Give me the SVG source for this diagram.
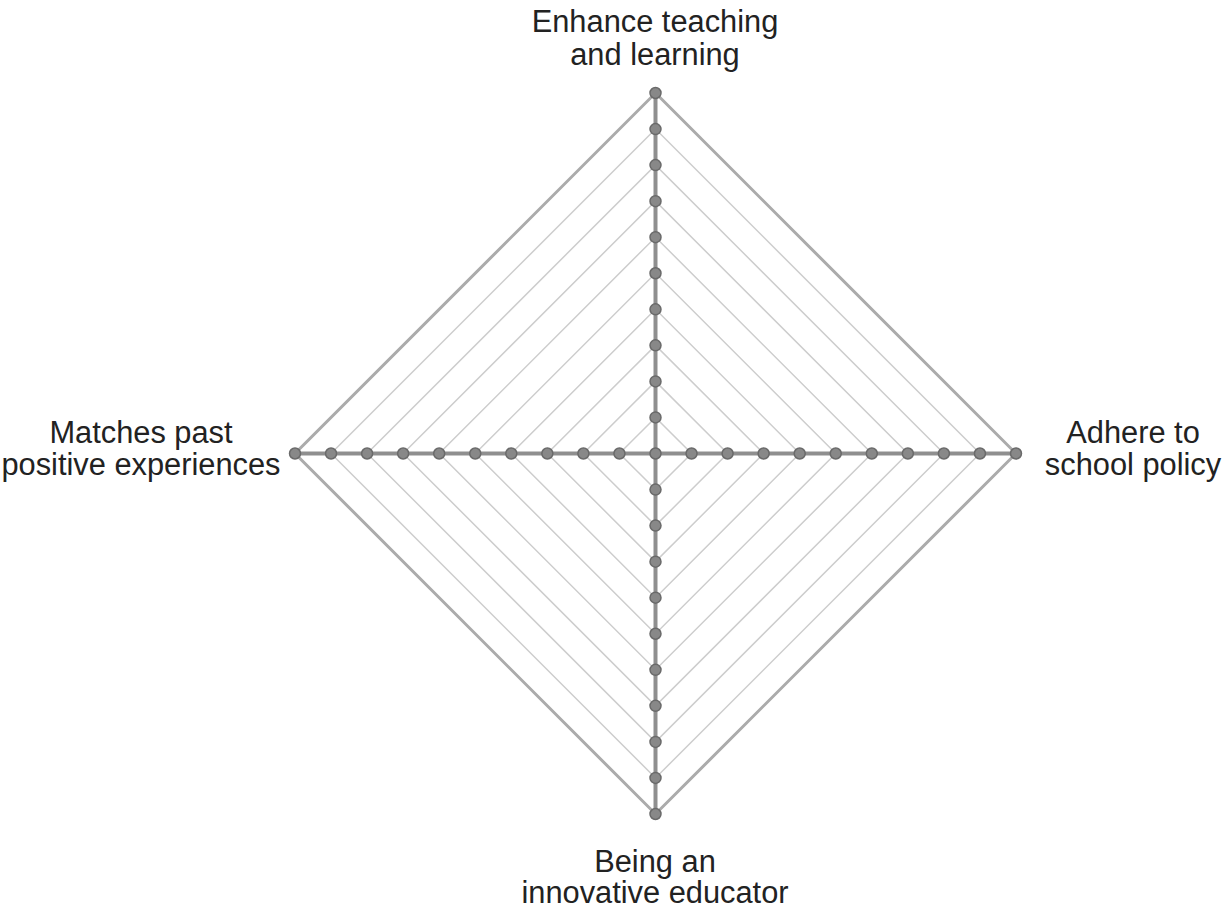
<svg xmlns="http://www.w3.org/2000/svg" xmlns:xlink="http://www.w3.org/1999/xlink" width="1229" height="911" viewBox="0 0 1229 911">
<style>
.ring{fill:none;stroke:#cdcdcd;stroke-width:1.5;stroke-linejoin:miter}
.outer{fill:none;stroke:#ababab;stroke-width:3;stroke-linejoin:miter}
.axis{stroke:#8f8f8f;stroke-width:4}
.dot{fill:#888888;stroke:#6a6a6a;stroke-width:1.5}
.lbl{font-family:"Liberation Sans",Arial,sans-serif;font-size:30.8px;fill:#222222;text-anchor:middle}
</style>
<rect width="1229" height="911" fill="#ffffff"/>
<g id="grid">
<polygon class="ring" points="655.5,417.45 691.55,453.5 655.5,489.55 619.45,453.5"/>
<polygon class="ring" points="655.5,381.4 727.6,453.5 655.5,525.6 583.4,453.5"/>
<polygon class="ring" points="655.5,345.35 763.65,453.5 655.5,561.65 547.35,453.5"/>
<polygon class="ring" points="655.5,309.3 799.7,453.5 655.5,597.7 511.3,453.5"/>
<polygon class="ring" points="655.5,273.25 835.75,453.5 655.5,633.75 475.25,453.5"/>
<polygon class="ring" points="655.5,237.2 871.8,453.5 655.5,669.8 439.2,453.5"/>
<polygon class="ring" points="655.5,201.15 907.85,453.5 655.5,705.85 403.15,453.5"/>
<polygon class="ring" points="655.5,165.1 943.9,453.5 655.5,741.9 367.1,453.5"/>
<polygon class="ring" points="655.5,129.05 979.95,453.5 655.5,777.95 331.05,453.5"/>
<polygon class="outer" points="655.5,93 1016,453.5 655.5,814 295,453.5"/>
</g>
<g id="connectors">
<line class="axis" x1="655.5" y1="93" x2="655.5" y2="814"/>
<line class="axis" x1="295" y1="453.5" x2="1016" y2="453.5"/>
</g>
<g id="dots">
<circle class="dot" cx="655.5" cy="453.5" r="5.5"/>
<circle class="dot" cx="655.5" cy="417.45" r="5.5"/><circle class="dot" cx="655.5" cy="381.4" r="5.5"/><circle class="dot" cx="655.5" cy="345.35" r="5.5"/><circle class="dot" cx="655.5" cy="309.3" r="5.5"/><circle class="dot" cx="655.5" cy="273.25" r="5.5"/><circle class="dot" cx="655.5" cy="237.2" r="5.5"/><circle class="dot" cx="655.5" cy="201.15" r="5.5"/><circle class="dot" cx="655.5" cy="165.1" r="5.5"/><circle class="dot" cx="655.5" cy="129.05" r="5.5"/><circle class="dot" cx="655.5" cy="93" r="5.5"/>
<circle class="dot" cx="655.5" cy="489.55" r="5.5"/><circle class="dot" cx="655.5" cy="525.6" r="5.5"/><circle class="dot" cx="655.5" cy="561.65" r="5.5"/><circle class="dot" cx="655.5" cy="597.7" r="5.5"/><circle class="dot" cx="655.5" cy="633.75" r="5.5"/><circle class="dot" cx="655.5" cy="669.8" r="5.5"/><circle class="dot" cx="655.5" cy="705.85" r="5.5"/><circle class="dot" cx="655.5" cy="741.9" r="5.5"/><circle class="dot" cx="655.5" cy="777.95" r="5.5"/><circle class="dot" cx="655.5" cy="814" r="5.5"/>
<circle class="dot" cx="691.55" cy="453.5" r="5.5"/><circle class="dot" cx="727.6" cy="453.5" r="5.5"/><circle class="dot" cx="763.65" cy="453.5" r="5.5"/><circle class="dot" cx="799.7" cy="453.5" r="5.5"/><circle class="dot" cx="835.75" cy="453.5" r="5.5"/><circle class="dot" cx="871.8" cy="453.5" r="5.5"/><circle class="dot" cx="907.85" cy="453.5" r="5.5"/><circle class="dot" cx="943.9" cy="453.5" r="5.5"/><circle class="dot" cx="979.95" cy="453.5" r="5.5"/><circle class="dot" cx="1016" cy="453.5" r="5.5"/>
<circle class="dot" cx="619.45" cy="453.5" r="5.5"/><circle class="dot" cx="583.4" cy="453.5" r="5.5"/><circle class="dot" cx="547.35" cy="453.5" r="5.5"/><circle class="dot" cx="511.3" cy="453.5" r="5.5"/><circle class="dot" cx="475.25" cy="453.5" r="5.5"/><circle class="dot" cx="439.2" cy="453.5" r="5.5"/><circle class="dot" cx="403.15" cy="453.5" r="5.5"/><circle class="dot" cx="367.1" cy="453.5" r="5.5"/><circle class="dot" cx="331.05" cy="453.5" r="5.5"/><circle class="dot" cx="295" cy="453.5" r="5.5"/>
</g>
<g id="label-top"><text class="lbl" x="655" y="32">Enhance teaching</text><text class="lbl" x="655" y="65">and learning</text></g>
<g id="label-right"><text class="lbl" x="1133" y="443">Adhere to</text><text class="lbl" x="1133" y="475">school policy</text></g>
<g id="label-left"><text class="lbl" x="141" y="443">Matches past</text><text class="lbl" x="141" y="475">positive experiences</text></g>
<g id="label-bottom"><text class="lbl" x="655" y="872">Being an</text><text class="lbl" x="655" y="903">innovative educator</text></g>
</svg>
